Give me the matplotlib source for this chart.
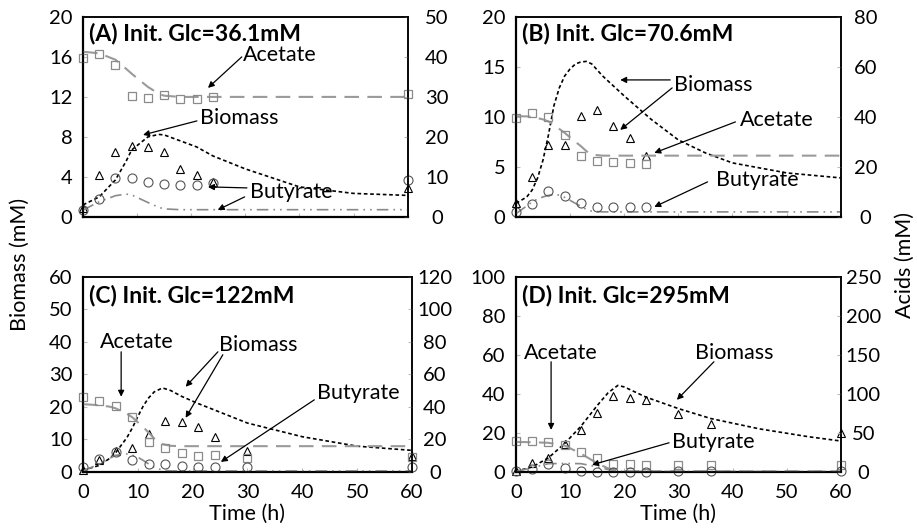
import matplotlib
matplotlib.use('Agg')
import matplotlib.pyplot as plt

plt.rcParams['font.family'] = ['Lato', 'DejaVu Sans']

# ---- data ----
# sample times (h)
t_A = [0, 3, 6, 9, 12, 15, 18, 21, 24, 60]
t_B = [0, 3, 6, 9, 12, 15, 18, 21, 24]
t_C = [0, 3, 6, 9, 12, 15, 18, 21, 24, 30, 60]
t_D = [0, 3, 6, 9, 12, 15, 18, 21, 24, 30, 36, 60]

# measured points
bio_A = [0.9, 4.2, 6.5, 7.1, 7.0, 6.5, 4.8, 4.2, 3.5, 2.9]
ace_A = [39.8, 40.8, 38.1, 30.3, 29.8, 30.4, 29.5, 29.6, 30.0, 30.7]
but_A = [1.8, 4.4, 9.6, 9.6, 8.8, 8.3, 7.9, 7.9, 8.5, 9.2]

bio_B = [1.4, 4.0, 7.2, 7.2, 10.1, 10.7, 9.1, 7.9, 6.1]
ace_B = [39.7, 41.7, 39.9, 32.7, 24.5, 22.2, 21.9, 21.5, 21.1]
but_B = [2.0, 5.1, 10.5, 8.5, 5.4, 3.8, 3.8, 3.8, 4.0]

bio_C = [0.7, 3.6, 6.5, 7.4, 11.6, 15.6, 15.2, 13.8, 10.8, 6.4, 4.8]
ace_C = [46.2, 43.7, 40.6, 33.8, 18.5, 14.8, 11.7, 9.6, 10.1, 8.6, 9.2]
but_C = [3.1, 8.2, 12.3, 7.2, 5.1, 4.7, 3.5, 3.1, 2.7, 2.7, 2.7]

bio_D = [0.2, 4.6, 7.3, 14.5, 21.3, 30.3, 38.8, 38.0, 36.6, 29.5, 24.7, 20.1]
ace_D = [39.2, 39.2, 38.3, 34.1, 25.6, 17.9, 10.6, 9.8, 8.5, 8.5, 8.5, 9.4]
but_D = [0.5, 3.4, 9.8, 5.5, 0.9, 0.3, 0.3, 0.3, 0.3, 1.3, 1.3, 1.3]

# model curves
mt_A = [0, 3, 6, 8, 9, 12, 14, 15, 18, 21, 24, 30, 40, 50, 60]
mbio_A = [1.2, 2.0, 3.7, 5.6, 6.7, 8.0, 8.25, 8.2, 7.6, 7.0, 6.1, 4.8, 3.0, 2.35, 2.15]
mace_A = [41.3, 40.9, 39.3, 37.0, 35.8, 32.5, 30.8, 30.3, 30.0, 30.0, 30.0, 30.0, 30.0, 30.0, 30.0]
mbut_A = [1.7, 3.8, 5.3, 5.7, 5.5, 3.6, 2.4, 2.0, 1.8, 1.8, 1.8, 1.8, 1.8, 1.8, 1.8]

mt_B = [0, 2, 3, 4, 5, 6, 7, 8, 9, 10, 11, 12, 13, 14, 16, 18, 20, 25, 30, 35, 40, 50, 60]
mbio_B = [1.35, 2.0, 2.7, 3.9, 5.7, 8.2, 11.1, 12.9, 14.1, 14.8, 15.3, 15.5, 15.55, 15.3, 14.1, 13.1, 12.1, 9.75, 7.7, 6.4, 5.4, 4.4, 3.9]
mace_B = [40.3, 40.2, 40.0, 39.5, 39.0, 38.2, 36.8, 35.2, 33.6, 31.8, 30.0, 28.3, 26.3, 24.9, 24.5, 24.5, 24.5, 24.5, 24.5, 24.5, 24.5, 24.5, 24.5]
mbut_B = [1.3, 4.4, 6.0, 7.2, 8.0, 8.6, 9.0, 8.7, 7.8, 6.6, 5.4, 4.2, 3.0, 2.3, 2.0, 2.0, 2.0, 2.0, 2.0, 2.0, 2.0, 2.0, 2.0]

mt_C = [0, 3, 5, 6, 8, 9, 10, 11, 12, 13, 14.5, 16, 18, 21, 24, 30, 40, 50, 60]
mbio_C = [0.5, 2.0, 4.3, 6.0, 10.5, 13.5, 17.0, 20.3, 22.8, 24.6, 25.8, 25.0, 23.2, 21.0, 19.0, 15.0, 10.8, 7.9, 6.6]
mace_C = [41.6, 41.0, 40.0, 39.0, 35.8, 33.5, 30.5, 27.5, 24.0, 20.5, 17.0, 16.0, 15.8, 15.8, 15.8, 15.8, 15.8, 15.8, 15.8]
mbut_C = [0.6, 4.8, 8.6, 10.2, 11.0, 10.3, 9.0, 7.0, 4.8, 2.8, 1.0, 0.6, 0.6, 0.6, 0.6, 0.6, 0.6, 0.6, 0.6]

mt_D = [0, 3, 6, 9, 12, 15, 17, 18.8, 20, 24, 30, 36, 45, 54, 60]
mbio_D = [0.3, 2.5, 7.2, 14.6, 23.4, 34.0, 40.5, 44.3, 43.5, 38.3, 32.4, 27.3, 22.0, 18.0, 15.8]
mace_D = [38.3, 38.0, 37.2, 33.6, 23.3, 11.0, 4.5, 1.5, 1.0, 0.9, 0.9, 0.9, 0.9, 0.9, 0.9]
mbut_D = [0.3, 5.5, 10.5, 10.8, 10.5, 6.5, 3.0, 1.0, 0.6, 0.5, 0.5, 0.5, 0.5, 0.5, 0.5]

titles = ['(A) Init. Glc=36.1mM', '(B) Init. Glc=70.6mM',
          '(C) Init. Glc=122mM', '(D) Init. Glc=295mM']
bio_lim = [20, 20, 60, 100]
bio_step = [4, 5, 10, 20]
acid_lim = [50, 80, 120, 250]
acid_step = [10, 20, 20, 50]

panels = [
    (t_A, bio_A, ace_A, but_A, mt_A, mbio_A, mace_A, mbut_A),
    (t_B, bio_B, ace_B, but_B, mt_B, mbio_B, mace_B, mbut_B),
    (t_C, bio_C, ace_C, but_C, mt_C, mbio_C, mace_C, mbut_C),
    (t_D, bio_D, ace_D, but_D, mt_D, mbio_D, mace_D, mbut_D),
]

# axes rectangles (figure fractions) and annotation layout (axes fractions)
rects = [
    [0.0905, 0.590, 0.354, 0.378],
    [0.5627, 0.590, 0.354, 0.378],
    [0.0905, 0.108, 0.3588, 0.369],
    [0.5627, 0.108, 0.3544, 0.369],
]
right_pad = [21, 18, 16.5, 16]
title_xy = [(0.018, 0.915), (0.018, 0.915), (0.018, 0.905), (0.018, 0.905)]

# (label, text xy, [(arrow start, arrow tip), ...])
notes = [
    [('Acetate', (0.492, 0.81), [((0.489, 0.80), (0.385, 0.645))]),
     ('Biomass', (0.36, 0.495), [((0.351, 0.48), (0.185, 0.41))]),
     ('Butyrate', (0.514, 0.125), [((0.505, 0.145), (0.385, 0.15)),
                                  ((0.498, 0.10), (0.415, 0.035))])],
    [('Biomass', (0.488, 0.66), [((0.475, 0.685), (0.321, 0.685)),
                                 ((0.481, 0.645), (0.321, 0.435))]),
     ('Acetate', (0.691, 0.485), [((0.676, 0.475), (0.426, 0.32))]),
     ('Butyrate', (0.617, 0.185), [((0.590, 0.175), (0.426, 0.05))])],
    [('Acetate', (0.052, 0.667), [((0.116, 0.615), (0.116, 0.385))]),
     ('Biomass', (0.413, 0.651), [((0.41, 0.615), (0.312, 0.436)),
                                 ((0.425, 0.60), (0.312, 0.277))]),
     ('Butyrate', (0.71, 0.405), [((0.703, 0.369), (0.419, 0.051))])],
    [('Acetate', (0.025, 0.61), [((0.108, 0.564), (0.108, 0.215))]),
     ('Biomass', (0.551, 0.61), [((0.609, 0.564), (0.495, 0.369))]),
     ('Butyrate', (0.48, 0.154), [((0.471, 0.149), (0.234, 0.036))])],
]

fig = plt.figure(figsize=(9.17, 5.29), dpi=100)

FS = 15.5
FS_TICK = 14.5
FS_TITLE = 16.5
for i, (t, bio, ace, but, mt, mbio, mace, mbut) in enumerate(panels):
    ax = fig.add_axes(rects[i])
    ax2 = ax.twinx()

    # model lines
    ax.plot(mt, mbio, color='black', lw=1.2, ls=(0, (2.2, 1.6)), zorder=3)
    ax2.plot(mt, mace, color='#9a9a9a', lw=1.5, ls=(0, (7, 4)))
    ax2.plot(mt, mbut, color='#8a8a8a', lw=1.2, ls=(0, (7, 3, 1, 3, 1, 3)))

    # measured points
    ax.plot(t, bio, ls='none', marker='^', ms=6, mfc='none', mec='black', mew=0.8, clip_on=False, zorder=4)
    ax2.plot(t, ace, ls='none', marker='s', ms=6, mfc='none', mec='#8a8a8a', mew=0.9, clip_on=False)
    ax2.plot(t, but, ls='none', marker='o', ms=6.5, mfc='none', mec='#555555', mew=0.8, clip_on=False)

    ax.set_xlim(0, 60)
    ax.set_ylim(0, bio_lim[i])
    ax2.set_ylim(0, acid_lim[i])
    ax.set_xticks(range(0, 61, 10))
    ax.set_yticks(range(0, bio_lim[i] + 1, bio_step[i]))
    ax2.set_yticks(range(0, acid_lim[i] + 1, acid_step[i]))

    ax.tick_params(axis='both', direction='in', length=3, color='#bbbbbb', labelsize=FS_TICK)
    ax.tick_params(axis='y', pad=7.5)
    ax2.tick_params(axis='y', direction='in', length=3, color='#bbbbbb', labelsize=FS_TICK,
                    pad=right_pad[i])
    for lab in ax2.get_yticklabels():
        lab.set_horizontalalignment('center')
    if i < 2:
        ax.tick_params(axis='x', labelbottom=False)
    else:
        ax.tick_params(axis='x', pad=9)
        ax.set_xlabel('Time (h)', fontsize=FS, labelpad=2)

    for a in (ax, ax2):
        for s in a.spines.values():
            s.set_linewidth(1.1)
            s.set_color('black')
    ax.spines['bottom'].set_linewidth(1.6)
    ax.spines['left'].set_linewidth(1.6)

    ax2.text(title_xy[i][0], title_xy[i][1], titles[i], transform=ax.transAxes,
             fontsize=FS_TITLE, fontweight='bold', ha='left', va='center')

    for label, txy, arrows in notes[i]:
        ax2.text(txy[0], txy[1], label, transform=ax.transAxes, fontsize=FS,
                 ha='left', va='center')
        for start, tip in arrows:
            ax2.annotate('', xy=tip, xycoords=ax.transAxes, xytext=start,
                         textcoords=ax.transAxes,
                         arrowprops=dict(arrowstyle='-|>', color='black', lw=0.9,
                                         mutation_scale=9, shrinkA=0, shrinkB=0))

fig.text(0.022, 0.5, 'Biomass (mM)', rotation=90, fontsize=FS, ha='center', va='center')
fig.text(0.987, 0.5, 'Acids (mM)', rotation=90, fontsize=FS, ha='center', va='center')

plt.savefig('out.png', dpi=100)
